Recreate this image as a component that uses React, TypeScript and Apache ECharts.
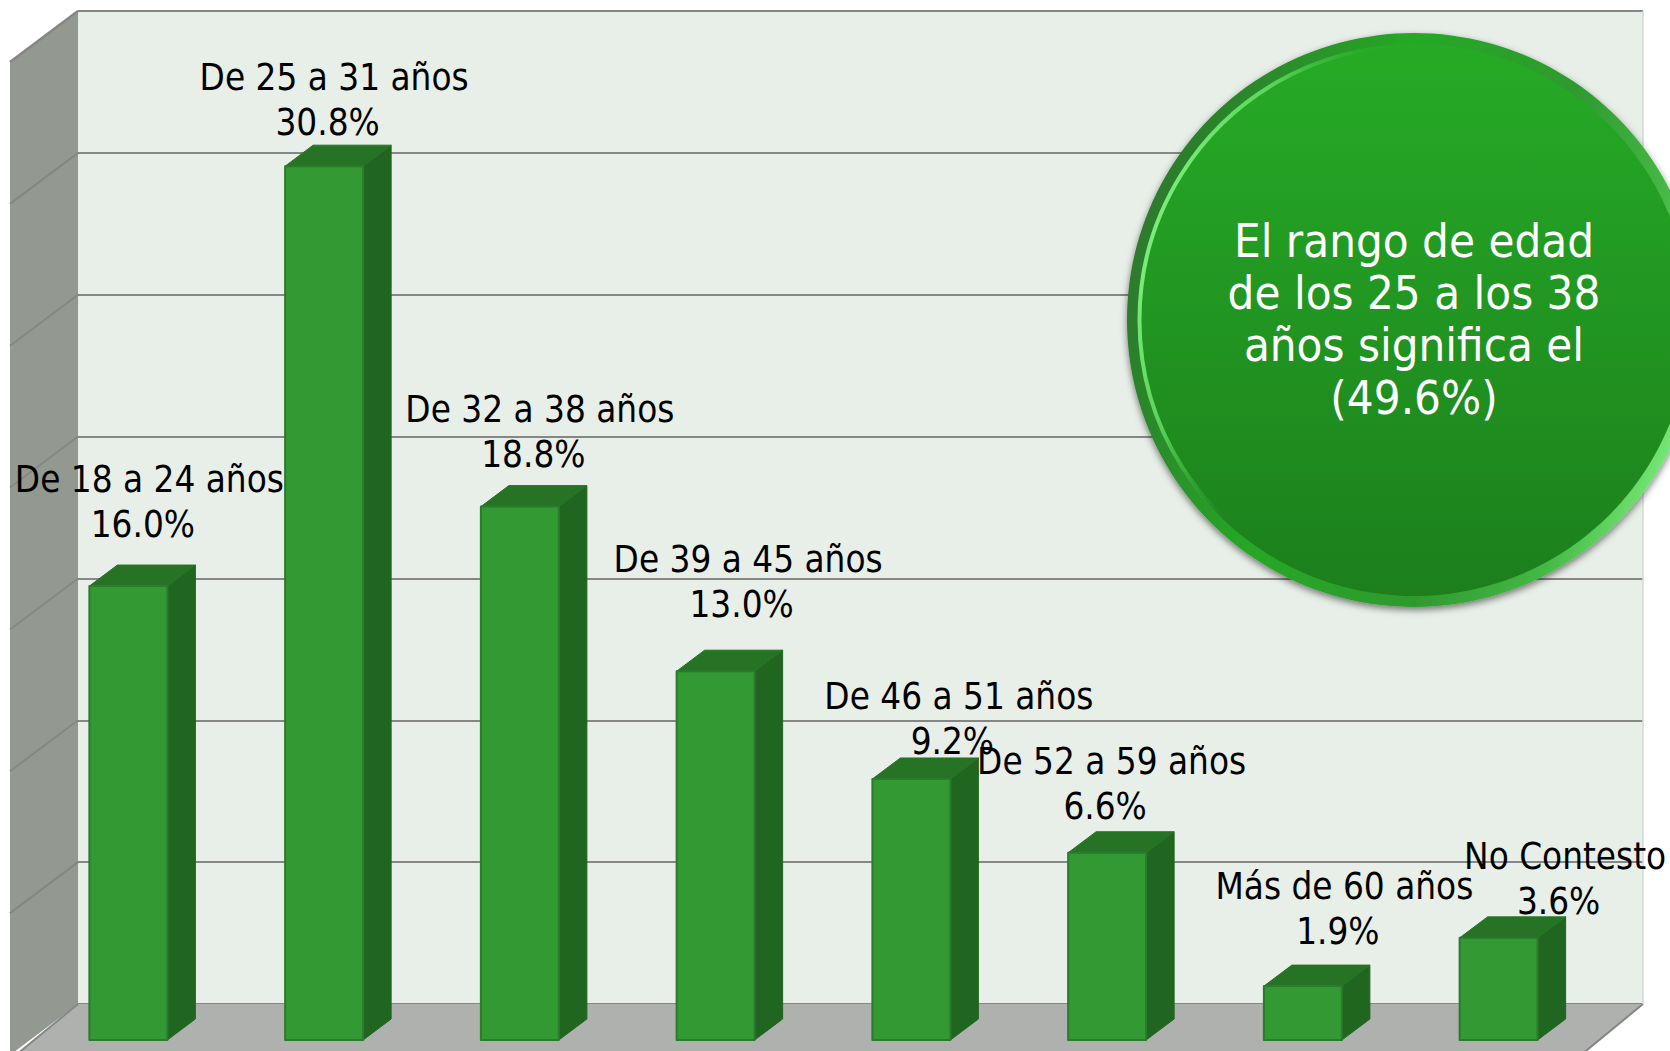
import React, { useEffect, useRef } from "react";
import * as echarts from "echarts";

const categories = [
  "De 18 a 24 años",
  "De 25 a 31 años",
  "De 32 a 38 años",
  "De 39 a 45 años",
  "De 46 a 51 años",
  "De 52 a 59 años",
  "Más de 60 años",
  "No Contesto",
];
const values = [16.0, 30.8, 18.8, 13.0, 9.2, 6.6, 1.9, 3.6];
const wallTicks = [0, 5, 10, 15, 20, 25, 30, 35];
const calloutLines = ["El rango de edad", "de los 25 a los 38", "años significa el", "(49.6%)"];

// label layout (px relative to the bar's top centre)
const labelDx = [21.5, 10.5, 20.5, 33, 48, 5, 42, 67];
const labelDy = [-107, -89, -97, -112, -82, -91, -100, -81];

const FONT = '"DejaVu Sans Condensed", "DejaVu Sans", sans-serif';
const W = 1670;
const H = 1051;
const BAR_W = 78;
const DX = 28; // bar depth
const DY = 21;
const WALL_DX = 68;
const WALL_DY = 51;
const GRID_C = "#868686";

function renderBar(_: any, api: any) {
  const i = api.value(0);
  const [cx, top] = api.coord([i, api.value(1)]);
  const [, base] = api.coord([i, 0]);
  const l = cx - BAR_W / 2 + 0.5;
  const r = l + BAR_W;
  const edge = { stroke: "#2b7a2d", lineWidth: 2, lineJoin: "round" };
  return {
    type: "group",
    children: [
      {
        type: "polygon",
        shape: { points: [[r, top], [r + DX, top - DY], [r + DX, base - DY], [r, base]] },
        style: { fill: "#206620", stroke: "#206620", lineWidth: 1 },
      },
      {
        type: "polygon",
        shape: { points: [[l, top], [l + DX, top - DY], [r + DX, top - DY], [r, top]] },
        style: { fill: "#267326", stroke: "#267326", lineWidth: 1 },
      },
      {
        type: "rect",
        shape: { x: l, y: top, width: BAR_W, height: base - top },
        style: { fill: "#339933", ...edge },
      },
    ],
  };
}

function renderLabel(_: any, api: any) {
  const i = api.value(0);
  const v = api.value(1);
  const [cx, top] = api.coord([i, v]);
  const x = cx + labelDx[i];
  const y = top + labelDy[i];
  const base = { fill: "#000", fontSize: 36.5, fontFamily: FONT, align: "center", verticalAlign: "middle" };
  return {
    type: "group",
    children: [
      { type: "text", style: { ...base, text: categories[i], x, y } },
      { type: "text", style: { ...base, text: `${v.toFixed(1)}%`, x: x - 6.5, y: y + 45 } },
    ],
  };
}

function renderWalls(params: any, api: any) {
  const [x0, yTop] = api.coord([0, 35]);
  const [x1, yBase] = api.coord([1, 0]);
  const bottom = yBase + WALL_DY;
  const lines = wallTicks.slice(1).map((t) => {
    const [, y] = api.coord([0, t]);
    return {
      type: "line",
      shape: { x1: x0, y1: y, x2: x0 - WALL_DX, y2: y + WALL_DY },
      style: { stroke: GRID_C, lineWidth: t === 35 ? 2.5 : 2 },
    };
  });
  return {
    type: "group",
    children: [
      {
        type: "polygon",
        shape: { points: [[x0, yTop], [x0 - WALL_DX, yTop + WALL_DY], [x0 - WALL_DX, bottom], [x0, yBase]] },
        style: { fill: "#939890" },
      },
      {
        type: "polygon",
        shape: { points: [[x0, yBase], [x1, yBase], [x1 - 62, bottom], [x0 - 62, bottom]] },
        style: { fill: "#aeb1ae" },
      },
      {
        type: "line",
        shape: { x1: x1, y1: yBase, x2: x1 - 62, y2: bottom },
        style: { stroke: GRID_C, lineWidth: 2 },
      },
      {
        type: "line",
        shape: { x1: x0, y1: yBase, x2: x0 - 62, y2: bottom },
        style: { stroke: GRID_C, lineWidth: 2 },
      },
      {
        type: "line",
        shape: { x1: x1, y1: yTop, x2: x1, y2: yBase },
        style: { stroke: "#d4d8d4", lineWidth: 1.5 },
      },
      ...lines,
    ],
  };
}

const CX = 1414;
const CY = 320;
const R = 287;

function linear(x: number, y: number, x2: number, y2: number, stops: [number, string][]) {
  return {
    type: "linear",
    x,
    y,
    x2,
    y2,
    colorStops: stops.map(([offset, color]) => ({ offset, color })),
  };
}

export default function App() {
  const ref = useRef<HTMLDivElement>(null);
  useEffect(() => {
    document.body.style.margin = "0";
    document.body.style.overflow = "hidden";
    const chart = echarts.init(ref.current!, undefined, { renderer: "svg" });
    const hiddenAxis = {
      axisLabel: { show: false },
      axisLine: { show: false },
      axisTick: { show: false },
    };
    chart.setOption({
      animation: false,
      backgroundColor: "#ffffff",
      grid: [
        { left: 30, top: 47, width: 1566, height: 993, show: false },
        {
          left: 78,
          top: 11,
          width: 1565,
          height: 993,
          show: true,
          backgroundColor: "#e8eee8",
          borderWidth: 0,
        },
      ],
      xAxis: [
        { type: "category", gridIndex: 0, data: categories, ...hiddenAxis, splitLine: { show: false } },
        { type: "value", gridIndex: 1, min: 0, max: 1, ...hiddenAxis, splitLine: { show: false } },
      ],
      yAxis: [
        { type: "value", gridIndex: 0, min: 0, max: 35, interval: 5, ...hiddenAxis, splitLine: { show: false } },
        {
          type: "value",
          gridIndex: 1,
          min: 0,
          max: 35,
          interval: 5,
          ...hiddenAxis,
          splitLine: { show: true, lineStyle: { color: GRID_C, width: 2 } },
        },
      ],
      series: [
        {
          type: "custom",
          xAxisIndex: 1,
          yAxisIndex: 1,
          clip: false,
          silent: true,
          z: 1,
          data: [[0, 0]],
          renderItem: renderWalls,
        },
        {
          type: "custom",
          xAxisIndex: 0,
          yAxisIndex: 0,
          clip: false,
          z: 3,
          data: values.map((v, i) => [i, v]),
          encode: { x: 0, y: 1 },
          renderItem: renderBar,
        },
        {
          type: "custom",
          xAxisIndex: 0,
          yAxisIndex: 0,
          clip: false,
          z: 4,
          data: values.map((v, i) => [i, v]),
          encode: { x: 0, y: 1 },
          renderItem: renderLabel,
        },
      ],
      graphic: [
        {
          type: "circle",
          z: 50,
          shape: { cx: CX, cy: CY, r: R },
          style: {
            fill: linear(0.025, 0.35, 0.975, 0.65, [
              [0, "#2d7a2d"],
              [0.35, "#26a826"],
              [0.65, "#2f9a2f"],
              [0.85, "#45b845"],
              [1, "#78e878"],
            ]),
            shadowBlur: 7,
            shadowColor: "rgba(0,0,0,0.5)",
            shadowOffsetY: 3,
          },
        },
        {
          type: "circle",
          z: 51,
          shape: { cx: CX, cy: CY, r: R - 11 },
          style: { fill: linear(0, 0, 0, 1, [[0, "#26ab26"], [1, "#1c7f1c"]]) },
        },
        {
          type: "circle",
          z: 52,
          shape: { cx: CX, cy: CY, r: R - 12.5 },
          style: {
            fill: "none",
            stroke: linear(0.025, 0.35, 0.975, 0.65, [
              [0, "rgba(125,240,125,0.95)"],
              [0.12, "rgba(110,230,110,0.75)"],
              [0.28, "rgba(60,190,60,0)"],
              [1, "rgba(60,190,60,0)"],
            ]),
            lineWidth: 4,
          },
        },
        ...calloutLines.map((t, i) => ({
          type: "text",
          z: 53,
          style: {
            text: t,
            x: CX,
            y: 240.5 + i * 52.2,
            fill: "#ffffff",
            fontSize: 47,
            fontFamily: FONT,
            align: "center",
            verticalAlign: "middle",
          },
        })),
      ],
    });
    return () => chart.dispose();
  }, []);
  return <div ref={ref} style={{ width: W, height: H }} />;
}
